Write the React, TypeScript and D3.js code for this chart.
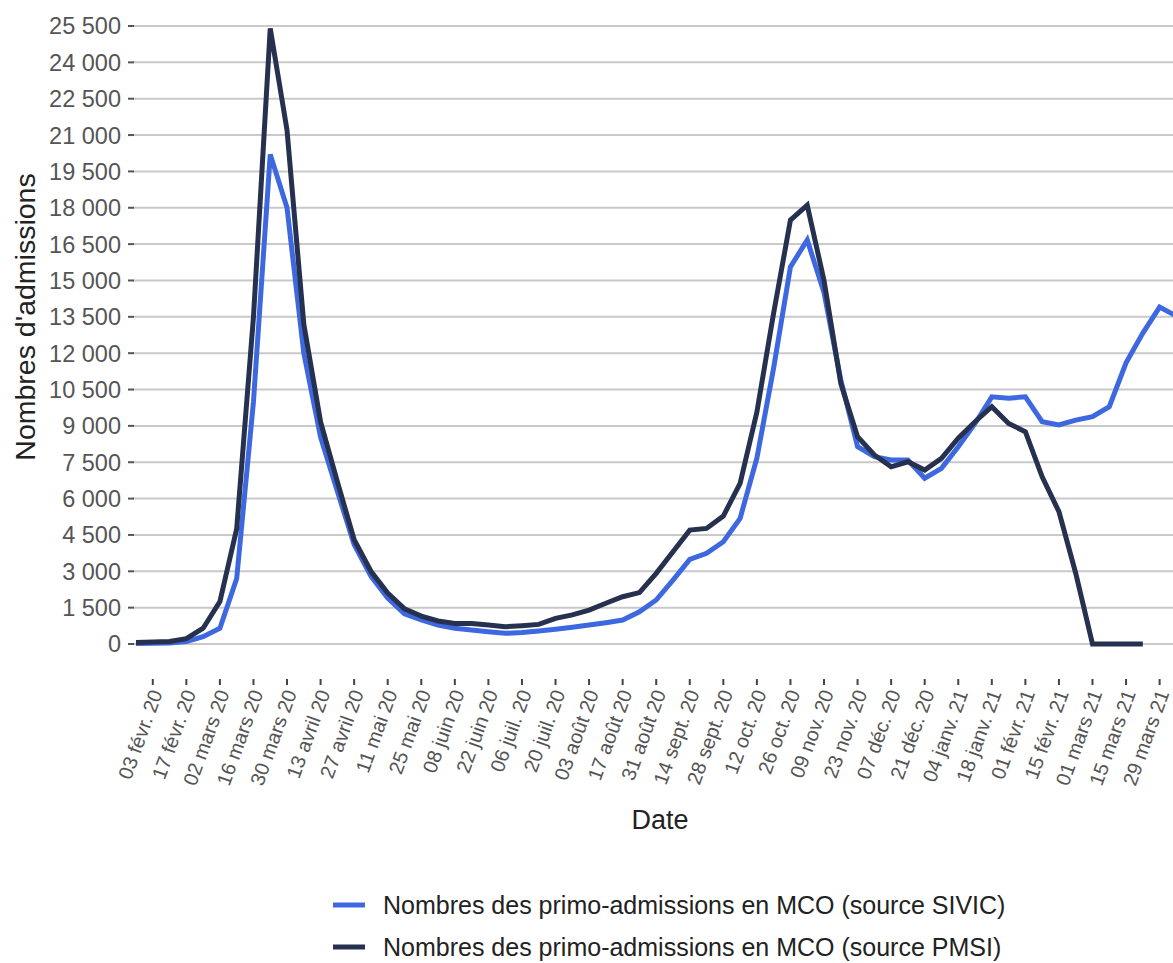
import React from "react";
import * as d3 from "d3";

// semaines (lundi) du 27 janv. 2020 au 05 avr. 2021
const weeks = [
  "2020-01-27", "2020-02-03", "2020-02-10", "2020-02-17", "2020-02-24",
  "2020-03-02", "2020-03-09", "2020-03-16", "2020-03-23", "2020-03-30",
  "2020-04-06", "2020-04-13", "2020-04-20", "2020-04-27", "2020-05-04",
  "2020-05-11", "2020-05-18", "2020-05-25", "2020-06-01", "2020-06-08",
  "2020-06-15", "2020-06-22", "2020-06-29", "2020-07-06", "2020-07-13",
  "2020-07-20", "2020-07-27", "2020-08-03", "2020-08-10", "2020-08-17",
  "2020-08-24", "2020-08-31", "2020-09-07", "2020-09-14", "2020-09-21",
  "2020-09-28", "2020-10-05", "2020-10-12", "2020-10-19", "2020-10-26",
  "2020-11-02", "2020-11-09", "2020-11-16", "2020-11-23", "2020-11-30",
  "2020-12-07", "2020-12-14", "2020-12-21", "2020-12-28", "2021-01-04",
  "2021-01-11", "2021-01-18", "2021-01-25", "2021-02-01", "2021-02-08",
  "2021-02-15", "2021-02-22", "2021-03-01", "2021-03-08", "2021-03-15",
  "2021-03-22", "2021-03-29", "2021-04-05",
];

const sivic = [
  20, 30, 40, 100, 300, 650, 2700, 10000, 20200, 18000,
  12000, 8540, 6300, 4100, 2800, 1900, 1250, 1000, 785, 650,
  580, 510, 440, 470, 535, 605, 690, 785, 880, 990,
  1330, 1815, 2640, 3490, 3740, 4220, 5185, 7670, 11400, 15560,
  16670, 14500, 10900, 8140, 7730, 7590, 7590, 6840, 7250, 8140,
  9100, 10200, 10140, 10200, 9170, 9040, 9240, 9380, 9790, 11600,
  12830, 13900, 13530,
];

const pmsi = [
  60, 80, 100, 220, 650, 1750, 4750, 13500, 25400, 21200,
  13200, 9160, 6700, 4300, 3000, 2100, 1450, 1150, 950, 850,
  850, 785, 715, 755, 810, 1060, 1200, 1400, 1680, 1950,
  2120, 2915, 3810, 4700, 4770, 5280, 6630, 9570, 13660, 17490,
  18110, 15000, 10750, 8550, 7800, 7310, 7520, 7180, 7660, 8490,
  9170, 9790, 9100, 8760, 6900, 5460, 2920, 0, 0, 0,
  0,
];

const tickWeeks = [
  "2020-02-03", "2020-02-17", "2020-03-02", "2020-03-16", "2020-03-30",
  "2020-04-13", "2020-04-27", "2020-05-11", "2020-05-25", "2020-06-08",
  "2020-06-22", "2020-07-06", "2020-07-20", "2020-08-03", "2020-08-17",
  "2020-08-31", "2020-09-14", "2020-09-28", "2020-10-12", "2020-10-26",
  "2020-11-09", "2020-11-23", "2020-12-07", "2020-12-21", "2021-01-04",
  "2021-01-18", "2021-02-01", "2021-02-15", "2021-03-01", "2021-03-15",
  "2021-03-29",
];

const tickLabels = [
  "03 févr. 20", "17 févr. 20", "02 mars 20", "16 mars 20", "30 mars 20",
  "13 avril 20", "27 avril 20", "11 mai 20", "25 mai 20", "08 juin 20",
  "22 juin 20", "06 juil. 20", "20 juil. 20", "03 août 20", "17 août 20",
  "31 août 20", "14 sept. 20", "28 sept. 20", "12 oct. 20", "26 oct. 20",
  "09 nov. 20", "23 nov. 20", "07 déc. 20", "21 déc. 20", "04 janv. 21",
  "18 janv. 21", "01 févr. 21", "15 févr. 21", "01 mars 21", "15 mars 21",
  "29 mars 21",
];

const yTicks = [
  0, 1500, 3000, 4500, 6000, 7500, 9000, 10500, 12000, 13500, 15000,
  16500, 18000, 19500, 21000, 22500, 24000, 25500,
];

const seriesNames = [
  "Nombres des primo-admissions en MCO (source SIVIC)",
  "Nombres des primo-admissions en MCO (source PMSI)",
];
const seriesColors = ["#3e68e0", "#26314f"];

const W = 1173;
const H = 963;
const FONT = "'Liberation Sans', Arial, Helvetica, sans-serif";

const fr = d3.formatLocale({
  decimal: ",",
  thousands: " ",
  grouping: [3],
  currency: ["", " €"],
});
const fmt = fr.format(",d");

export default function App() {
  const x = d3.scalePoint<string>().domain(weeks).range([136, 1176.4]);
  const y = d3.scaleLinear().domain([0, 25500]).range([644, 26]);

  const line = d3
    .line<number>()
    .x((_, i) => x(weeks[i]) as number)
    .y((d) => y(d));

  const series = [sivic, pmsi];

  return (
    <svg
      width={W}
      height={H}
      style={{ position: "absolute", left: 0, top: 0, background: "#fff" }}
      fontFamily={FONT}
    >
      {/* grille + axe Y */}
      {yTicks.map((t) => (
        <g key={t}>
          <line x1={133} x2={W} y1={y(t)} y2={y(t)} stroke="#c9c9c9" strokeWidth={2} />
          <line x1={128} x2={134} y1={y(t)} y2={y(t)} stroke="#555" strokeWidth={2} />
          <text
            x={121}
            y={y(t)}
            dy="0.36em"
            textAnchor="end"
            fontSize={23.5}
            fill="#555"
          >
            {fmt(t)}
          </text>
        </g>
      ))}

      {/* axe X */}
      {tickWeeks.map((w, i) => {
        const px = x(w) as number;
        return (
          <g key={w}>
            <line x1={px} x2={px} y1={679} y2={685} stroke="#444" strokeWidth={2} />
            <text
              transform={`translate(${px + 10},${693}) rotate(-70)`}
              textAnchor="end"
              fontSize={20}
              fill="#555"
            >
              {tickLabels[i]}
            </text>
          </g>
        );
      })}

      {/* séries */}
      {series.map((s, k) => (
        <path
          key={k}
          d={line(s) as string}
          fill="none"
          stroke={seriesColors[k]}
          strokeWidth={5}
          strokeLinejoin="miter"
        />
      ))}

      {/* titres */}
      <text
        transform={`translate(35,317) rotate(-90)`}
        textAnchor="middle"
        fontSize={28.5}
        fill="#222"
      >
        Nombres d'admissions
      </text>
      <text x={660} y={829} textAnchor="middle" fontSize={27} fill="#222">
        Date
      </text>

      {/* légende */}
      {seriesNames.map((n, k) => (
        <g key={n} transform={`translate(333,${905 + k * 42})`}>
          <line x1={0} x2={32} y1={0} y2={0} stroke={seriesColors[k]} strokeWidth={5} />
          <text x={50} y={0} dy="0.36em" fontSize={25} fill="#222">
            {n}
          </text>
        </g>
      ))}
    </svg>
  );
}
